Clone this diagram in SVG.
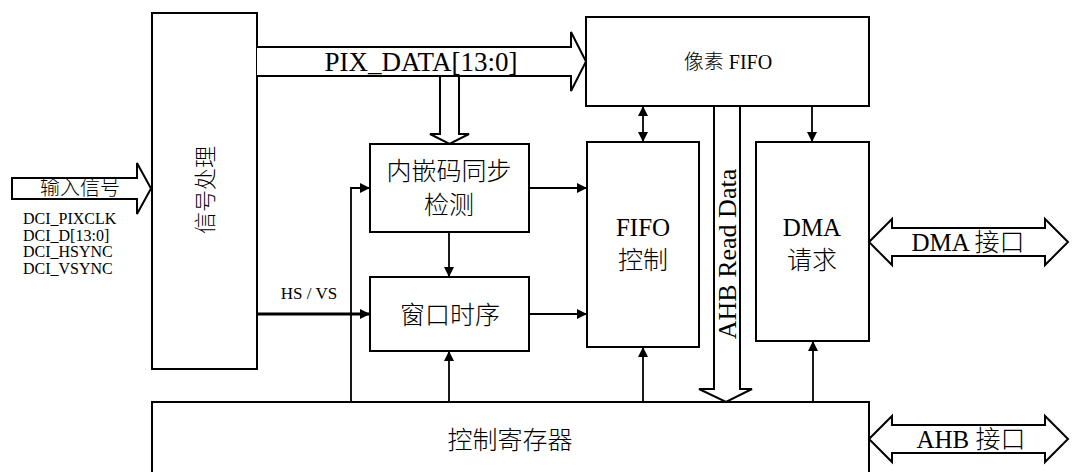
<svg xmlns="http://www.w3.org/2000/svg" width="1077" height="472" viewBox="0 0 1077 472">
<defs>
<marker id="ah" viewBox="0 0 10 10" refX="10" refY="5" markerWidth="10" markerHeight="10" markerUnits="userSpaceOnUse" orient="auto-start-reverse">
<path d="M0,0 L10,5 L0,10 Z" fill="#000"/>
</marker>
</defs>
<style>
.box{fill:#fff;stroke:#000;stroke-width:2}
.big{fill:#fff;stroke:#000;stroke-width:2;stroke-linejoin:miter}
.ln{fill:none;stroke:#000;stroke-width:1.8}
.thick{fill:none;stroke:#000;stroke-width:3}
text{font-family:"Liberation Serif","Noto Sans CJK SC",serif;font-weight:300;fill:#000;text-anchor:middle;dominant-baseline:central}
.t25{font-size:25px}
.t22{font-size:22px}
.t20{font-size:20px}
.t16{font-size:16px;text-anchor:start;dominant-baseline:auto}
</style>
<rect width="1077" height="472" fill="#fff"/>

<g id="input-arrow">
<path class="big" d="M12,178 H137 V163 L151,188.5 L137,214 V199 H12 Z"/>
<text class="t20" x="80" y="188">输入信号</text>
<text class="t16" x="23" y="224">DCI_PIXCLK</text>
<text class="t16" x="23" y="241">DCI_D[13:0]</text>
<text class="t16" x="23" y="257">DCI_HSYNC</text>
<text class="t16" x="23" y="274">DCI_VSYNC</text>
</g>

<g id="signal-proc">
<rect class="box" x="152" y="13" width="105" height="356"/>
<text class="t22" transform="translate(205,190) rotate(-90)">信号处理</text>
</g>

<g id="pixel-fifo">
<rect class="box" x="586" y="17" width="283" height="89"/>
<text class="t20" x="728" y="62">像素 FIFO</text>
</g>

<g id="sync-detect">
<rect class="box" x="370" y="144" width="159" height="88"/>
<text class="t25" x="449" y="171">内嵌码同步</text>
<text class="t25" x="449" y="205">检测</text>
</g>

<g id="window-timing">
<rect class="box" x="370" y="277" width="159" height="74"/>
<text class="t25" x="450" y="315">窗口时序</text>
</g>

<g id="fifo-ctrl">
<rect class="box" x="587" y="142" width="112" height="205"/>
<text class="t25" x="643" y="227">FIFO</text>
<text class="t25" x="643" y="260">控制</text>
</g>

<g id="dma-req">
<rect class="box" x="756" y="142" width="113" height="199"/>
<text class="t25" x="812" y="227">DMA</text>
<text class="t25" x="812" y="260">请求</text>
</g>

<g id="ctrl-reg">
<rect class="box" x="152" y="402" width="717" height="80"/>
<text class="t25" x="510" y="440">控制寄存器</text>
</g>

<g id="connectors">
<path class="big" d="M257,47 H571 V32 L586,61.5 L571,91 V76 H257"/>
<text style="font-size:27px" x="421" y="62">PIX_DATA[13:0]</text>
<path class="big" d="M440,77 V134 H430 L449.5,144 L469,134 H459 V77"/>
<path class="big" d="M714,107 V389 H699 L726,402 L752,389 H740 V107"/>
<text style="font-size:26px" transform="translate(727,254) rotate(-90)">AHB Read Data</text>

<path class="big" d="M869,242 L892,219 V228 H1045 V219 L1068,242 L1045,265 V256 H892 V265 Z"/>
<text class="t25" x="968" y="242">DMA 接口</text>
<path class="big" d="M869,439 L892,416 V425 H1045 V416 L1068,439 L1045,462 V453 H892 V462 Z"/>
<text class="t25" x="971" y="439">AHB 接口</text>

<line class="ln" x1="643" y1="106" x2="643" y2="142" marker-start="url(#ah)" marker-end="url(#ah)"/>
<line class="ln" x1="812" y1="106" x2="812" y2="142" marker-end="url(#ah)"/>
<line class="ln" x1="449" y1="232" x2="449" y2="277" marker-end="url(#ah)"/>
<line class="ln" x1="529" y1="188" x2="587" y2="188" marker-end="url(#ah)"/>
<line class="ln" x1="529" y1="314" x2="587" y2="314" marker-end="url(#ah)"/>
<polyline class="ln" points="351,402 351,188 370,188" marker-end="url(#ah)"/>
<line class="thick" x1="257" y1="314" x2="370" y2="314" marker-end="url(#ah)"/>
<text style="font-size:17px" x="309" y="293">HS / VS</text>
<line class="ln" x1="449" y1="402" x2="449" y2="351" marker-end="url(#ah)"/>
<line class="ln" x1="643" y1="402" x2="643" y2="347" marker-end="url(#ah)"/>
<line class="ln" x1="813" y1="402" x2="813" y2="341" marker-end="url(#ah)"/>
</g>
</svg>
